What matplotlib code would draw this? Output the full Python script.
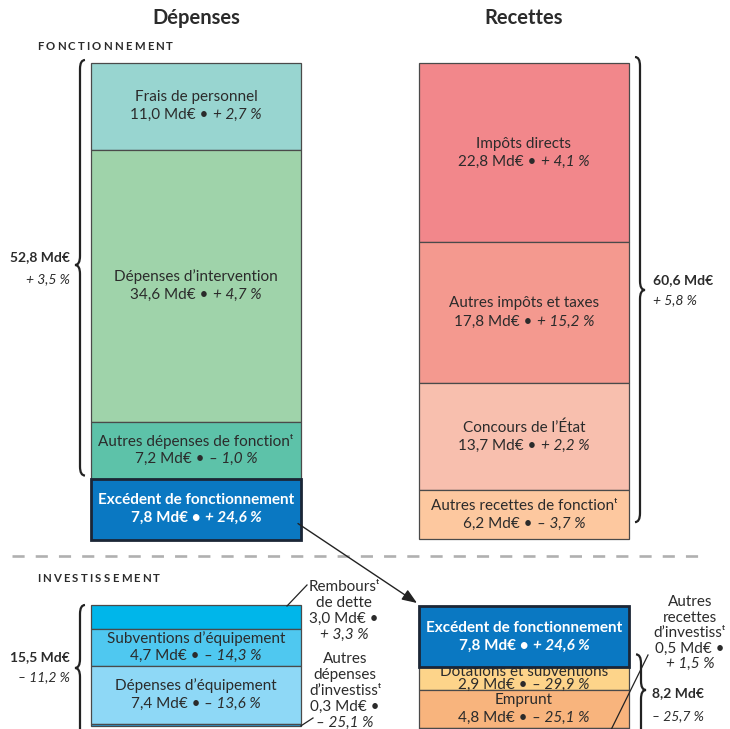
import matplotlib
matplotlib.use("Agg")
import matplotlib.pyplot as plt
import matplotlib.patches as mpatches
from matplotlib.path import Path

# ---- data (Md€ and change vs previous year) ----
dep_fonct_labels = ["Frais de personnel", "Dépenses d’intervention",
                    "Autres dépenses de fonctionᵗ", "Excédent de fonctionnement"]
dep_fonct_values = [11.0, 34.6, 7.2, 7.8]
dep_fonct_changes = ["+ 2,7 %", "+ 4,7 %", "– 1,0 %", "+ 24,6 %"]

rec_fonct_labels = ["Impôts directs", "Autres impôts et taxes",
                    "Concours de l’État", "Autres recettes de fonctionᵗ"]
rec_fonct_values = [22.8, 17.8, 13.7, 6.2]
rec_fonct_changes = ["+ 4,1 %", "+ 15,2 %", "+ 2,2 %", "– 3,7 %"]

dep_inv_labels = ["Remboursᵗ\nde dette", "Subventions d’équipement",
                  "Dépenses d’équipement", "Autres\ndépenses\nd’investissᵗ"]
dep_inv_values = [3.0, 4.7, 7.4, 0.3]
dep_inv_changes = ["+ 3,3 %", "– 14,3 %", "– 13,6 %", "– 25,1 %"]

rec_inv_labels = ["Excédent de fonctionnement", "Dotations et subventions",
                  "Emprunt", "Autres\nrecettes\nd’investissᵗ"]
rec_inv_values = [7.8, 2.9, 4.8, 0.5]
rec_inv_changes = ["+ 24,6 %", "– 29,9 %", "– 25,1 %", "+ 1,5 %"]

totals = {"dep_fonct": ("52,8 Md€", "+ 3,5 %"),
          "rec_fonct": ("60,6 Md€", "+ 5,8 %"),
          "dep_inv": ("15,5 Md€", "– 11,2 %"),
          "rec_inv": ("8,2 Md€", "– 25,7 %")}

dep_fonct_colors = ["#98d5d0", "#9fd3aa", "#5dc2a9", "#0a78c2"]
rec_fonct_colors = ["#f2878b", "#f4998f", "#f8bfae", "#fdc89f"]
dep_inv_colors = ["#00b6ea", "#4fc8f0", "#8ed8f6", "#2a9bd6"]
rec_inv_colors = ["#0a78c2", "#fdd48a", "#f8b47d", "#f39c5c"]

TXT = "#2b2b2b"
SCALE = 7.87          # pixels per Md€
FS = 11               # body text size
W, H = 730, 729
plt.rcParams["font.family"] = ["Lato", "DejaVu Sans"]

fig = plt.figure(figsize=(W / 100, H / 100), dpi=100)
ax = fig.add_axes([0, 0, 1, 1])
ax.set_xlim(0, W)
ax.set_ylim(H, 0)
ax.axis("off")
renderer = fig.canvas.get_renderer()


def rich(x, y, parts, ha="center", size=FS, color=TXT, z=3):
    # parts: (text, weight, style) drawn side by side on one line
    objs = [ax.text(0, y, s, fontsize=size, fontweight=w, fontstyle=st,
                    color=color, ha="left", va="center", zorder=z)
            for s, w, st in parts]
    widths = [t.get_window_extent(renderer).width for t in objs]
    gap = size * 0.38
    total = sum(widths) + gap * (len(objs) - 1)
    x0 = {"center": x - total / 2, "right": x - total, "left": x}[ha]
    for t, w in zip(objs, widths):
        t.set_x(x0)
        x0 += w + gap


def fmt(v):
    return f"{v:.1f}".replace(".", ",") + " Md€"


def stack(x, top, values, colors, width=210, strong=()):
    ys = []
    y = top
    for i, (v, c) in enumerate(zip(values, colors)):
        h = v * SCALE
        if i in strong:
            r = mpatches.Rectangle((x, y), width, h, facecolor=c,
                                   edgecolor="#1b2636", lw=2.0, zorder=4)
        else:
            r = mpatches.Rectangle((x, y), width, h, facecolor=c,
                                   edgecolor="#4a4a4a", lw=0.9, zorder=1)
        ax.add_patch(r)
        ys.append((y, y + h))
        y += h
    return ys


def block_text(x, ys, label, value, change, strong=False, dy=9):
    mid = (ys[0] + ys[1]) / 2
    col = "white" if strong else TXT
    w = "bold" if strong else "normal"
    z = 5 if strong else 3
    rich(x, mid - dy, [(label, w, "normal")], color=col, z=z)
    rich(x, mid + dy, [(fmt(value) + " •", w, "normal"), (change, w, "italic")],
         color=col, z=z)


def brace(xb, y0, y1, ym, side, h=5, r=9):
    # side = -1 : tip points left, +1 : tip points right
    s = side
    verts = [(xb - s * h, y0), (xb, y0), (xb, y0 + r),
             (xb, ym - r), (xb, ym), (xb + s * h, ym),
             (xb, ym), (xb, ym + r),
             (xb, y1 - r), (xb, y1), (xb - s * h, y1)]
    codes = [Path.MOVETO, Path.CURVE3, Path.CURVE3,
             Path.LINETO, Path.CURVE3, Path.CURVE3,
             Path.CURVE3, Path.CURVE3,
             Path.LINETO, Path.CURVE3, Path.CURVE3]
    ax.add_patch(mpatches.PathPatch(Path(verts, codes), fill=False,
                                    edgecolor="#222222", lw=1.6, zorder=3))


def spaced(x, y, s, size=8.2, track=2.2):
    for ch in s:
        t = ax.text(x, y, ch, fontsize=size, fontweight="bold", color=TXT,
                    ha="left", va="center")
        x += t.get_window_extent(renderer).width + track


def outside(x, y0, step, label, value, change):
    lines = label.split("\n")
    for k, s in enumerate(lines):
        rich(x, y0 + step * k, [(s, "normal", "normal")])
    rich(x, y0 + step * len(lines), [(fmt(value) + " •", "normal", "normal")])
    rich(x, y0 + step * (len(lines) + 1), [(change, "normal", "italic")])


# ---- headers ----
LX, RX, CW = 91, 419, 210
ax.text(LX + CW / 2, 18, "Dépenses", fontsize=14.5, fontweight="bold",
        color=TXT, ha="center", va="center")
ax.text(RX + CW / 2, 18, "Recettes", fontsize=14.5, fontweight="bold",
        color=TXT, ha="center", va="center")
spaced(37, 46, "FONCTIONNEMENT")
spaced(37, 578, "INVESTISSEMENT")

# ---- fonctionnement ----
top_f = 63
ys = stack(LX, top_f, dep_fonct_values, dep_fonct_colors, strong=(3,))
for i in range(4):
    block_text(LX + CW / 2, ys[i], dep_fonct_labels[i], dep_fonct_values[i],
               dep_fonct_changes[i], strong=(i == 3))
exc_left = ys[3]
brace(80, top_f - 3, ys[2][1] - 3, 265, -1)
rich(70, 257, [(totals["dep_fonct"][0], "bold", "normal")], ha="right", size=10)
rich(70, 279, [(totals["dep_fonct"][1], "normal", "italic")], ha="right", size=10)

ys = stack(RX, top_f, rec_fonct_values, rec_fonct_colors)
for i in range(4):
    block_text(RX + CW / 2, ys[i], rec_fonct_labels[i], rec_fonct_values[i],
               rec_fonct_changes[i])
brace(640, top_f - 6, ys[3][1] - 17, 290, 1)
rich(653, 280, [(totals["rec_fonct"][0], "bold", "normal")], ha="left", size=10)
rich(653, 300, [(totals["rec_fonct"][1], "normal", "italic")], ha="left", size=10)

# separator
ax.plot([12, 700], [556, 556], color="#b0b0b0", lw=1.9, dashes=(4.6, 4.2),
        solid_capstyle="butt")

# ---- investissement ----
top_l, top_r = 605, 606
ys = stack(LX, top_l, dep_inv_values, dep_inv_colors)
for i in (1, 2):
    block_text(LX + CW / 2, ys[i], dep_inv_labels[i], dep_inv_values[i],
               dep_inv_changes[i])
# labels of the thin blocks sit beside the column
outside(344, 587, 16, dep_inv_labels[0], dep_inv_values[0], dep_inv_changes[0])
ax.plot([LX + CW - 14, 307], [ys[0][0] + 1, 585], color="#222", lw=0.9, zorder=5)
outside(345, 659, 16, dep_inv_labels[3], dep_inv_values[3], dep_inv_changes[3])
ax.plot([LX + CW, 313], [ys[3][0] + 2, 718], color="#222", lw=0.9, zorder=5)

brace(80, top_l, H + 20, 668, -1)
rich(70, 657, [(totals["dep_inv"][0], "bold", "normal")], ha="right", size=10)
rich(70, 677, [(totals["dep_inv"][1], "normal", "italic")], ha="right", size=10)

ys = stack(RX, top_r, rec_inv_values, rec_inv_colors, strong=(0,))
block_text(RX + CW / 2, ys[0], rec_inv_labels[0], rec_inv_values[0],
           rec_inv_changes[0], strong=True)
block_text(RX + CW / 2, ys[1], rec_inv_labels[1], rec_inv_values[1],
           rec_inv_changes[1], dy=6.5)
block_text(RX + CW / 2, ys[2], rec_inv_labels[2], rec_inv_values[2],
           rec_inv_changes[2])
outside(690, 602, 15.5, rec_inv_labels[3], rec_inv_values[3], rec_inv_changes[3])
ax.plot([648, 606], [655, 740], color="#222", lw=0.9, zorder=5)

brace(641, ys[1][0] - 13, H + 20, 690, 1)
rich(652, 693, [(totals["rec_inv"][0], "bold", "normal")], ha="left", size=10)
rich(652, 716, [(totals["rec_inv"][1], "normal", "italic")], ha="left", size=10)

# arrow from the operating surplus to the investment receipts
ax.annotate("", xy=(RX - 2, top_r - 3), xytext=(LX + CW - 3, exc_left[0] + 45),
            arrowprops=dict(arrowstyle="-|>,head_length=0.9,head_width=0.35",
                            color="#222", lw=1.0, shrinkA=0, shrinkB=0),
            zorder=6)

fig.savefig("out.png", dpi=100)
